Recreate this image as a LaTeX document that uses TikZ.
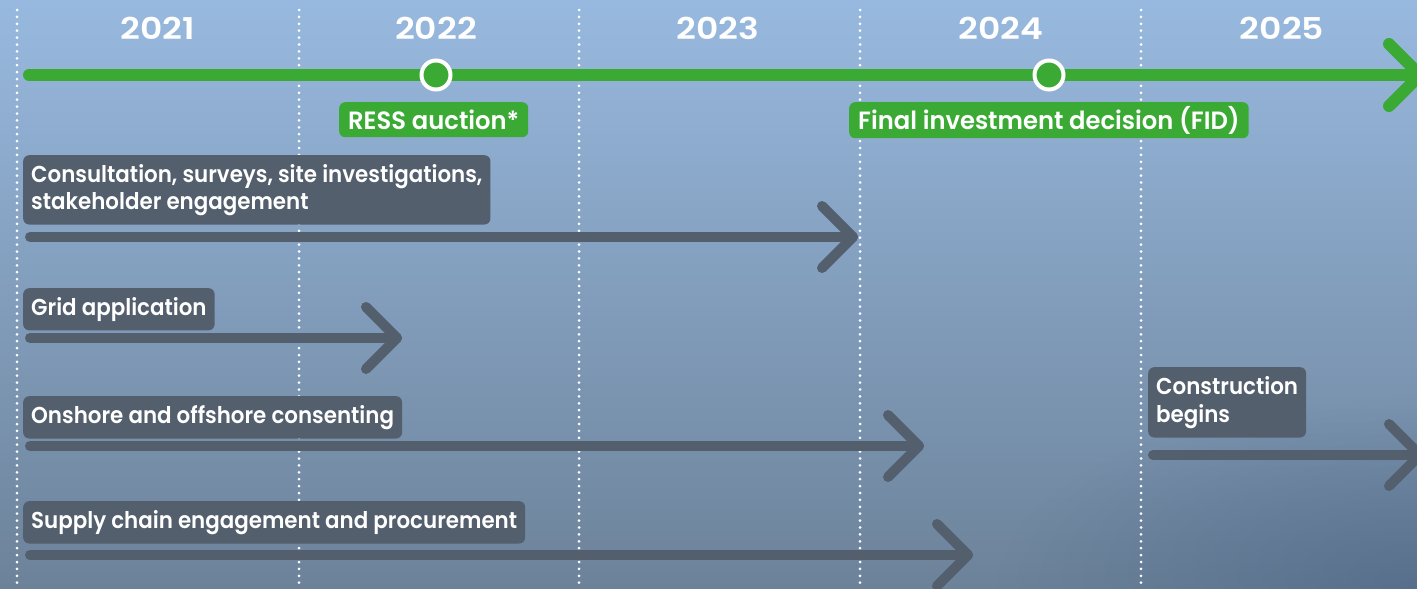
\documentclass[tikz,border=0pt]{standalone}
\usepackage{fontspec}
\setmainfont{Poppins}
\newfontfamily\labfont{Poppins SemiBold}[FakeStretch=0.93]
\newfontfamily\tagfont{Poppins SemiBold}[FakeStretch=0.97]
\newfontfamily\yearfont{Poppins SemiBold}[FakeStretch=1.15]
\usetikzlibrary{fadings}
\definecolor{tlgreen}{HTML}{3AAA35}
\definecolor{tlgrey}{HTML}{535F6C}
\definecolor{skytop}{HTML}{98B9DF}
\definecolor{skymid}{HTML}{88A4C4}
\definecolor{skybot}{HTML}{6C8299}
\definecolor{skydeep}{HTML}{4A6384}
\tikzfading[name=glowfade, inner color=transparent!0, outer color=transparent!100]
\tikzset{
  yearlab/.style={text=white, font=\yearfont\fontsize{30}{30}\selectfont, inner sep=0pt},
  greenlab/.style={anchor=north west, fill=tlgreen, text=white, rounded corners=6pt,
    inner xsep=9pt, inner ysep=4pt, minimum height=35pt, font=\tagfont\fontsize{25}{28}\selectfont},
  greylab/.style={anchor=north west, fill=tlgrey, text=white, rounded corners=6pt, align=left,
    inner xsep=8pt, inner ysep=9pt, minimum height=36pt, font=\labfont\fontsize{23}{27}\selectfont},
  dotline/.style={white, line width=3pt, line cap=round, dash pattern=on 0pt off 6.9pt},
  mainline/.style={tlgreen, line width=12pt, line cap=round, line join=round},
  phase/.style={tlgrey, line width=10pt, line cap=round, line join=round},
  mile/.style={circle, fill=tlgreen, draw=white, line width=4pt, minimum size=29pt, inner sep=0pt}
}

\begin{document}
\begin{tikzpicture}[x=1pt,y=-1pt]
  \useasboundingbox (0,0) rectangle (1417,589);
  \clip (0,0) rectangle (1417,589);
  % sky
  \shade[top color=skytop, middle color=skymid, bottom color=skybot] (0,0) rectangle (1417,589);
  \fill[skydeep, path fading=glowfade, fill opacity=0.6] (1417,589) ellipse (420 and 190);

  % year columns
  \foreach \x in {17,299,579,860,1141}
    \draw[dotline] (\x,10) -- (\x,589);
  \node[yearlab] (y2021) at ( 158,28) {2021};
  \node[yearlab] (y2022) at ( 436,28) {2022};
  \node[yearlab] (y2023) at ( 718,28) {2023};
  \node[yearlab] (y2024) at (1001,28) {2024};
  \node[yearlab] (y2025) at (1282,28) {2025};

  % main timeline
  \coordinate (gstart) at (29,75);
  \coordinate (gend)   at (1420,75);
  \draw[mainline] (gstart) -- (gend);
  \draw[mainline] (gend) ++(-31,-31) -- (gend) -- ++(-31,31);
  \node[mile] (m2022) at ( 436,75) {};
  \node[mile] (m2024) at (1049,75) {};
  \node[greenlab] (ress) at (339,102) {RESS auction*};
  \node[greenlab] (fid)  at (849,102) {Final investment decision (FID)};

  % phases
  \node[greylab] (cons) at (23,155) {Consultation, surveys, site investigations,\\stakeholder engagement};
  \coordinate (cons start) at (30,237);
  \coordinate (cons end)   at (853,237);
  \draw[phase] (cons start) -- (cons end);
  \draw[phase] (cons end) ++(-31,-31) -- (cons end) -- ++(-31,31);

  \node[greylab] (grid) at (23,288) {Grid application};
  \coordinate (grid start) at (30,338);
  \coordinate (grid end)   at (397,338);
  \draw[phase] (grid start) -- (grid end);
  \draw[phase] (grid end) ++(-31,-31) -- (grid end) -- ++(-31,31);

  \node[greylab] (cnst) at (23,396) {Onshore and offshore consenting};
  \coordinate (cnst start) at (30,446);
  \coordinate (cnst end)   at (919,446);
  \draw[phase] (cnst start) -- (cnst end);
  \draw[phase] (cnst end) ++(-31,-31) -- (cnst end) -- ++(-31,31);

  \node[greylab] (supp) at (23,501) {Supply chain engagement and procurement};
  \coordinate (supp start) at (30,555);
  \coordinate (supp end)   at (968,555);
  \draw[phase] (supp start) -- (supp end);
  \draw[phase] (supp end) ++(-31,-31) -- (supp end) -- ++(-31,31);

  \node[greylab, font=\labfont\fontsize{23}{28}\selectfont] (build) at (1148,367) {Construction\\begins};
  \coordinate (build start) at (1153,455);
  \coordinate (build end)   at (1420,455);
  \draw[phase] (build start) -- (build end);
  \draw[phase] (build end) ++(-31,-31) -- (build end) -- ++(-31,31);
\end{tikzpicture}
\end{document}
